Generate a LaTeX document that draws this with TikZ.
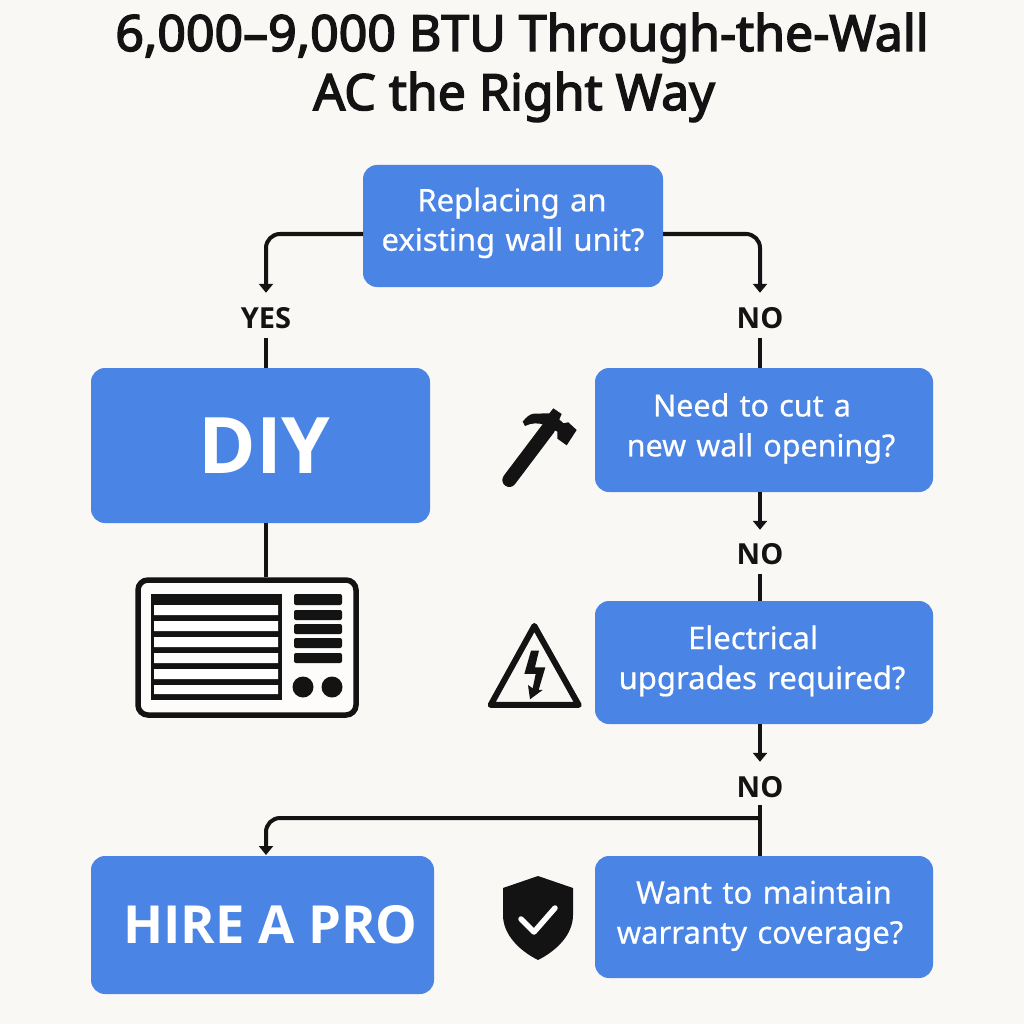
\documentclass[tikz,border=0pt]{standalone}
\usepackage{fontspec}
\setmainfont[FakeBold=0.5]{Noto Sans}
\newfontfamily\ttlfont[FakeBold=3]{Noto Sans}
\newfontfamily\hvyfont{Open Sans}
\usetikzlibrary{arrows.meta,calc}
\definecolor{bgc}{HTML}{F9F8F5}
\definecolor{boxc}{HTML}{4A84E4}
\definecolor{inkc}{HTML}{131313}
\newcommand{\upln}[2][1.2pt]{\raisebox{#1}[0.8em][0.3em]{#2}}
\tikzset{
  qbox/.style={rectangle,fill=boxc,rounded corners=14pt,text=white,inner sep=0pt,align=center,font=\fontsize{31}{40}\selectfont},
  bigbox/.style={rectangle,fill=boxc,rounded corners=14pt,text=white,inner sep=0pt,align=center},
  lab/.style={inner sep=0pt,text=inkc,font=\hvyfont\fontsize{29}{29}\selectfont\bfseries,text height=20pt,text depth=0pt},
  ttl/.style={inner sep=0pt,text=inkc,font=\fontsize{50}{57}\ttlfont\selectfont},
  con/.style={draw=inkc,line width=4pt},
  arr/.style={con,-{Triangle[width=14pt,length=9pt]}},
}
\begin{document}
\begin{tikzpicture}[x=1pt,y=-1pt]
\path[fill=bgc] (0,0) rectangle (1024,1024);
\useasboundingbox (0,0) rectangle (1024,1024);

\node[ttl] (t1) at (522,38) {6,000–9,000 BTU Through-the-Wall};
\node[ttl] (t2) at (514,97) {AC the Right Way};

\node[qbox,minimum width=300pt,minimum height=122pt,text width=300pt] (q1) at (513,226) {\hspace*{-2pt}\upln[2.5pt]{Replacing an}\\\upln[3pt]{existing wall unit?}};
\node[bigbox,minimum width=339pt,minimum height=155pt,font=\hvyfont\fontsize{78}{78}\selectfont\bfseries] (diy) at (260.5,445.5) {\hspace*{8pt}DIY};
\node[qbox,minimum width=338pt,minimum height=124pt,text width=338pt,font=\fontsize{30.5}{40}\selectfont] (q2) at (764,430) {\hspace*{-24pt}\upln{Need to cut a}\\\hspace*{-6pt}\upln{new wall opening?}};
\node[qbox,minimum width=338pt,minimum height=123pt,text width=338pt] (q3) at (764,662.5) {\hspace*{-22pt}\upln{Electrical}\\\hspace*{-4pt}\upln{upgrades required?}};
\node[qbox,minimum width=338pt,minimum height=122pt,text width=338pt] (q4) at (764,917) {\upln{Want to maintain}\\\hspace*{-8pt}\upln{warranty coverage?}};
\node[bigbox,minimum width=343pt,minimum height=138pt,font=\hvyfont\fontsize{52.5}{52.5}\selectfont\bfseries] (pro) at (262.5,925) {\hspace*{16pt}HIRE A PRO};

\node[lab] (yes) at (266,318) {YES};
\node[lab] (no1) at (760,318) {NO};
\node[lab] (no2) at (760,554) {NO};
\node[lab] (no3) at (760,787) {NO};

% AC unit
\node[rectangle,draw=inkc,line width=5.5pt,fill=white!60!bgc,rounded corners=10pt,minimum width=218pt,minimum height=135pt,inner sep=0pt] (ac) at (247,647.5) {};

\coordinate (q1l) at (363,234);
\coordinate (q1r) at (663,234);
\coordinate (branch) at (760,818);
\coordinate (proin) at (266,856);

\draw[arr,rounded corners=14pt,shorten >=15pt] (q1l) -| (yes.north);
\draw[arr,rounded corners=14pt,shorten >=15pt] (q1r) -| (no1.north);
\draw[con,shorten <=10pt] (yes.south) -- (yes.south |- diy.north);
\draw[con,shorten <=10pt] (no1.south) -- (no1.south |- q2.north);
\draw[con] (yes.south |- diy.south) -- (yes.south |- ac.north);
\draw[arr,shorten >=14pt] (no2.north |- q2.south) -- (no2.north);
\draw[con,shorten <=10pt] (no2.south) -- (no2.south |- q3.north);
\draw[arr,shorten >=15pt] (no3.north |- q3.south) -- (no3.north);
\draw[con,shorten <=8pt] (no3.south) -- (no3.south |- q4.north);
\draw[arr,rounded corners=14pt,shorten >=1pt] (branch) -| (proin);

% grille
\fill[inkc] (151,594) rectangle (282,700);
\fill[white] (154,605) rectangle (278,615) (154,621) rectangle (278,631) (154,637) rectangle (278,647) (154,653) rectangle (278,663) (154,669) rectangle (278,679) (154,685) rectangle (278,694);
\fill[inkc,rounded corners=2pt] (294,594) rectangle (342,605);
\fill[inkc,rounded corners=2pt] (294,610) rectangle (342,620);
\fill[inkc,rounded corners=2pt] (294,624) rectangle (342,634);
\fill[inkc,rounded corners=2pt] (294,638) rectangle (342,648);
\fill[inkc,rounded corners=2pt] (294,653) rectangle (342,663);
\fill[inkc] (303,687) circle (10.5);
\fill[inkc] (332,687) circle (10.5);

% hammer
\begin{scope}[shift={(470,390)},x=0.3333pt,y=-0.3333pt]
\draw[inkc,line width=14pt,line cap=round] (118,270) -- (235,115);
\fill[inkc] (158,95) .. controls (170,80) and (180,72) .. (192,71) -- (238,70) -- (250,55) -- (275,72) -- (268,88) -- (280,100) -- (295,97) -- (320,120) -- (290,166) -- (262,146) -- (262,125) -- (225,105) .. controls (205,98) and (185,98) .. (165,108) -- cycle;
\end{scope}

% warning sign
\begin{scope}[shift={(470,390)},x=0.3333pt,y=-0.3333pt]
\draw[inkc,line width=6pt,line join=round] (193,708) -- (62,945) -- (326,945) -- cycle;
\fill[inkc] (183,782) -- (207,782) -- (195,832) -- (226,832) -- (206,900) -- (218,900) -- (180,928) -- (174,885) -- (188,895) -- (197,852) -- (163,852) -- cycle;
\end{scope}

% shield
\fill[inkc] (538,876) -- (573,888) -- (573,915) .. controls (573,935) and (556,951) .. (538,960) .. controls (520,951) and (503,935) .. (503,915) -- (503,888) -- cycle;
\draw[white,line width=5.5pt,line cap=round,line join=round] (521,919) -- (534,932) -- (555,908);
\end{tikzpicture}
\end{document}
